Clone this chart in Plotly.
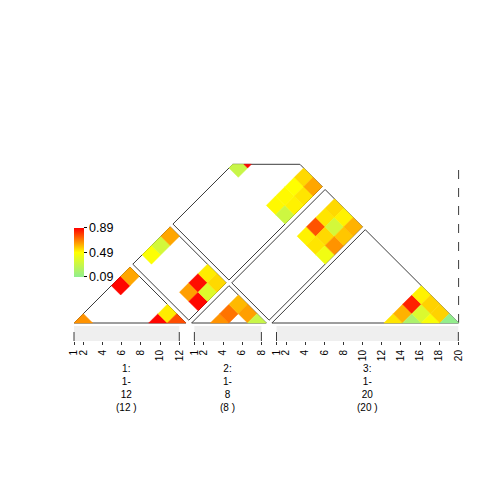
import plotly.graph_objects as go
from plotly.colors import sample_colorscale

# groups shown along the bottom
group_names = ["1", "2", "3"]
group_items = [12, 8, 20]
group_bins = [6, 4, 10]
tick_items = [
    [1, 2, 4, 6, 8, 10, 12],
    [1, 2, 4, 6, 8],
    [1, 2, 4, 6, 8, 10, 12, 14, 16, 18, 20],
]

# legend range
value_min = 0.09
value_max = 0.89
legend_ticks = [0.09, 0.49, 0.89]

# cells of each block as (bin in first group, bin in second group, value)
cells_1_1 = [(1, 1, 0.66), (1, 5, 0.88), (1, 6, 0.63), (5, 5, 0.88), (5, 6, 0.52), (6, 6, 0.77)]
cells_1_2 = [(1, 2, 0.48), (1, 3, 0.33), (1, 4, 0.63), (5, 2, 0.64), (5, 3, 0.87),
             (5, 4, 0.52), (6, 2, 0.88), (6, 3, 0.37), (6, 4, 0.55)]
cells_2_2 = [(2, 2, 0.66), (2, 3, 0.71), (2, 4, 0.60), (3, 4, 0.64), (4, 4, 0.29)]
cells_1_3 = [(1, 7, 0.29), (1, 8, 0.88), (5, 7, 0.50), (5, 8, 0.50), (5, 9, 0.49),
             (5, 10, 0.55), (6, 7, 0.31), (6, 8, 0.51), (6, 9, 0.53), (6, 10, 0.63)]
cells_2_3 = [(2, 7, 0.51), (2, 8, 0.76), (2, 9, 0.53), (2, 10, 0.55), (3, 7, 0.53),
             (3, 8, 0.55), (3, 9, 0.33), (3, 10, 0.51), (4, 7, 0.44), (4, 8, 0.66),
             (4, 9, 0.58), (4, 10, 0.61)]
cells_3_3 = [(7, 7, 0.53), (7, 8, 0.61), (7, 9, 0.84), (7, 10, 0.51), (8, 8, 0.19),
             (8, 9, 0.36), (8, 10, 0.56), (9, 9, 0.47), (9, 10, 0.56), (10, 10, 0.10)]

blocks = [
    (0, 0, cells_1_1), (0, 1, cells_1_2), (1, 1, cells_2_2),
    (0, 2, cells_1_3), (1, 2, cells_2_3), (2, 2, cells_3_3),
]

colorscale = [[0.0, "rgb(144,238,144)"], [0.5, "rgb(255,255,0)"], [1.0, "rgb(255,0,0)"]]

# page geometry (pixels); the page body adds an 8px margin, so subtract it
W = 504
OFF = 8
BIN_PX = 18.67
ITEM_PX = 9.57
LEFT_PX = 74 - OFF
BASE_PX = 323 - OFF
BIN_GAP = 0.3
ITEM_GAP = 1.58
TOP = 8.5
FONT = "Liberation Sans, Arial, sans-serif"


def paper_y(px):
    # pixel row on the screen -> paper coordinate
    return (W - (px - OFF)) / W


bin_start = []
pos = 0
for n in group_bins:
    bin_start.append(pos)
    pos += n + BIN_GAP

item_start = []
pos = 0
for n in group_items:
    item_start.append(pos)
    pos += n - 1 + ITEM_GAP


def to_xy(a, b):
    # rotate the matrix by 45 degrees
    return ((a + b) / 2, (b - a) / 2)


def clip_y(points, limit, keep_below):
    out = []
    n = len(points)
    for k in range(n):
        p = points[k]
        q = points[(k + 1) % n]
        p_in = p[1] <= limit if keep_below else p[1] >= limit
        q_in = q[1] <= limit if keep_below else q[1] >= limit
        if p_in:
            out.append(p)
        if p_in != q_in:
            t = (limit - p[1]) / (q[1] - p[1])
            out.append((p[0] + t * (q[0] - p[0]), limit))
    return out


def clip(points):
    points = clip_y(points, 0, False)
    points = clip_y(points, TOP, True)
    return points


fig = go.Figure()

# block outlines
ox, oy = [], []
for g in range(3):
    for h in range(g, 3):
        sg, eg = bin_start[g], bin_start[g] + group_bins[g]
        sh, eh = bin_start[h], bin_start[h] + group_bins[h]
        if g == h:
            corners = [(sg, sg), (sg, eg), (eg, eg)]
        else:
            corners = [(sg, sh), (eg, sh), (eg, eh), (sg, eh)]
        poly = clip([to_xy(a, b) for a, b in corners])
        poly.append(poly[0])
        ox += [p[0] for p in poly] + [None]
        oy += [p[1] for p in poly] + [None]

fig.add_trace(go.Scatter(x=ox, y=oy, mode="lines",
                         line=dict(color="#3c3c3c", width=1), hoverinfo="skip"))

# dashed line at the right end
right_end = bin_start[-1] + group_bins[-1]
fig.add_trace(go.Scatter(x=[right_end, right_end], y=[0, TOP], mode="lines",
                         line=dict(color="#3c3c3c", width=1, dash="dash"), hoverinfo="skip"))

# heatmap cells
for g, h, cells in blocks:
    for i, j, v in cells:
        a0 = bin_start[g] + i - 1
        b0 = bin_start[h] + j - 1
        corners = [(a0, b0), (a0 + 1, b0), (a0 + 1, b0 + 1), (a0, b0 + 1)]
        poly = clip([to_xy(a, b) for a, b in corners])
        poly.append(poly[0])
        col = sample_colorscale(colorscale, (v - value_min) / (value_max - value_min))[0]
        fig.add_trace(go.Scatter(
            x=[p[0] for p in poly], y=[p[1] for p in poly],
            mode="lines", fill="toself", fillcolor=col,
            line=dict(color=col, width=0.5),
            text="%.2f" % v, hoverinfo="text",
        ))

# legend
fig.add_trace(go.Scatter(
    x=[-100], y=[-100], mode="markers",
    marker=dict(
        color=[value_min, value_max], cmin=value_min, cmax=value_max,
        colorscale=colorscale, showscale=True,
        colorbar=dict(
            x=(74 - OFF) / W, xanchor="left",
            y=paper_y(276.7), yanchor="bottom",
            len=49, lenmode="pixels", thickness=10, thicknessmode="pixels",
            xpad=0, ypad=0, outlinewidth=0,
            tickvals=legend_ticks, ticktext=["%.2f" % t for t in legend_ticks],
            ticks="outside", ticklen=3, tickcolor="black",
            tickfont=dict(family=FONT, size=12.5, color="black"),
        ),
    ),
    hoverinfo="skip",
))

# axis of items below the heatmap
tickvals, ticktext = [], []
for g in range(3):
    for k in tick_items[g]:
        tickvals.append(item_start[g] + k - 1)
        ticktext.append(str(k))

fig.add_trace(go.Scatter(x=[-100], y=[-100], xaxis="x2", mode="markers",
                         marker=dict(opacity=0), hoverinfo="skip"))

bar_top = paper_y(326)
bar_bottom = paper_y(341)
for g in range(3):
    s = item_start[g]
    e = s + group_items[g] - 1
    fig.add_shape(type="rect", xref="x2", yref="paper", x0=s, x1=e, y0=bar_bottom, y1=bar_top,
                  fillcolor="#efefef", line=dict(width=0), layer="below")
    for xe in (s, e):
        fig.add_shape(type="line", xref="x2", yref="paper", x0=xe, x1=xe,
                      y0=bar_bottom, y1=paper_y(324),
                      line=dict(color="#3c3c3c", width=1, dash="dash"))
    fig.add_annotation(
        xref="x2", yref="paper", x=(s + e) / 2, y=paper_y(361), yanchor="top",
        text="%s:<br>1-<br>%d<br>(%d )" % (group_names[g], group_items[g], group_items[g]),
        showarrow=False, font=dict(family=FONT, size=10, color="black"),
    )

fig.update_layout(
    width=W, height=W,
    margin=dict(l=0, r=0, t=0, b=0, pad=0),
    paper_bgcolor="white", plot_bgcolor="white",
    showlegend=False,
    xaxis=dict(range=[-LEFT_PX / BIN_PX, (W - LEFT_PX) / BIN_PX], visible=False, fixedrange=True),
    yaxis=dict(range=[-(W - BASE_PX) / BIN_PX, BASE_PX / BIN_PX], visible=False, fixedrange=True),
    xaxis2=dict(
        range=[-LEFT_PX / ITEM_PX, (W - LEFT_PX) / ITEM_PX],
        anchor="free", position=bar_bottom, overlaying="x", side="bottom",
        showgrid=False, zeroline=False, showline=False,
        tickvals=tickvals, ticktext=ticktext, tickangle=-90,
        ticks="outside", ticklen=3, tickcolor="#333333",
        ticklabelstandoff=1,
        tickfont=dict(family=FONT, size=10, color="black"),
        fixedrange=True,
    ),
)

fig.write_html("out.html")
